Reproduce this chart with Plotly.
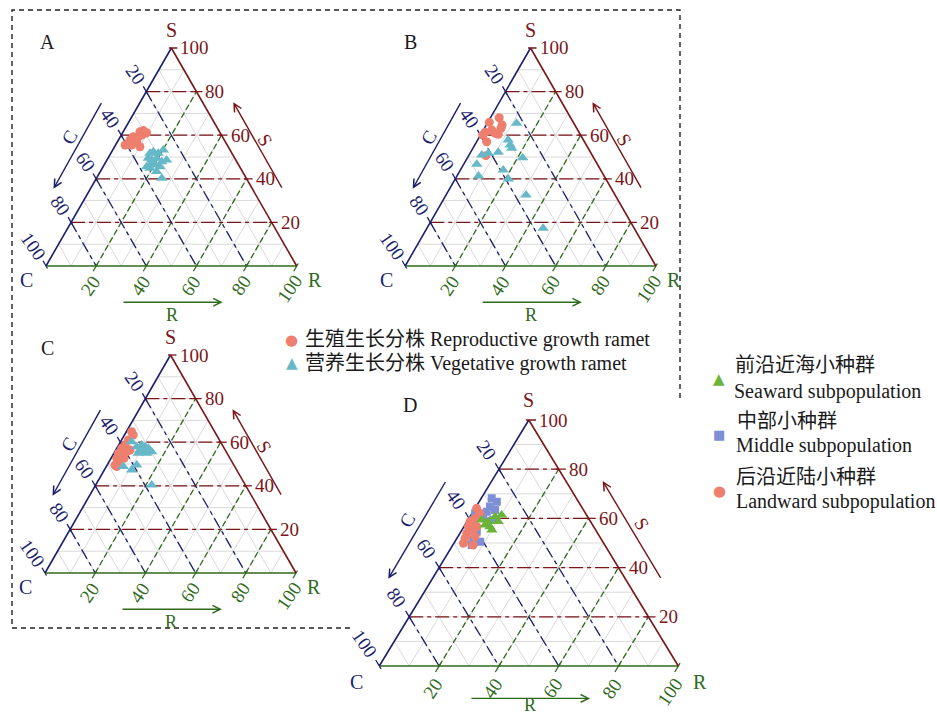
import math
import plotly.graph_objects as go

FIG_W, FIG_H = 937, 717
H3 = math.sqrt(3) / 2
FONT = "Liberation Serif, Times New Roman, Noto Sans CJK SC, serif"
GLYPH_FONT = "DejaVu Sans, Noto Sans, sans-serif"

# ---- colours -------------------------------------------------------------
COL_S = "#7a1518"      # S axis (dark red)
COL_C = "#1b1f6b"      # C axis (navy)
COL_R = "#2f6a1c"      # R axis (green)
COL_GRID = "#dadada"
COL_TEXT = "#1a1a1a"
COL_REPRO = "#ee7f6e"
COL_VEG = "#66b8c8"
COL_SEA = "#6ab43a"
COL_MID = "#7d90d6"
COL_LAND = "#ee7f6e"

# ---- data: CSR strategy percentages (S, C, R) ----------------------------
A_REPRO_S = [55.5, 57.8, 59.3, 61.6, 62.1, 60.1, 57.0, 54.7, 55.5, 56.3, 58.6, 59.3, 60.9, 61.1]
A_REPRO_C = [40.7, 37.6, 35.5, 31.7, 30.1, 31.8, 35.3, 35.2, 38.1, 39.0, 35.2, 33.5, 30.1, 29.3]
A_REPRO_R = [3.8, 4.6, 5.2, 6.7, 7.8, 8.1, 7.7, 10.1, 6.4, 4.7, 6.2, 7.2, 9.0, 9.6]

A_VEG_S = [51.7, 52.4, 51.7, 53.2, 49.4, 48.6, 49.4, 47.8, 48.6, 45.5, 46.3, 45.5, 43.3, 44.8, 40.2, 47.1]
A_VEG_C = [32.7, 31.0, 29.4, 26.6, 34.5, 33.5, 31.1, 29.9, 27.6, 37.1, 33.4, 31.8, 34.2, 36.1, 33.7, 34.3]
A_VEG_R = [15.6, 16.6, 18.9, 20.2, 16.1, 17.9, 19.5, 22.3, 23.8, 17.4, 20.3, 22.7, 22.5, 19.1, 26.1, 18.6]

B_REPRO_S = [65.9, 68.0, 64.7, 63.2, 62.4, 60.9, 60.4, 61.3, 60.1, 57.0, 50.6]
B_REPRO_C = [33.5, 28.5, 29.0, 30.2, 34.3, 33.7, 32.7, 37.5, 39.0, 39.0, 42.5]
B_REPRO_R = [0.6, 3.5, 6.3, 6.6, 3.3, 5.4, 6.9, 1.2, 0.9, 4.0, 6.9]

B_VEG_S = [65.5, 57.8, 55.5, 54.0, 51.7, 50.9, 52.2, 46.7, 44.0, 39.9, 41.3, 49.7, 32.6, 17.3]
B_VEG_C = [22.8, 30.0, 30.4, 30.5, 41.0, 44.0, 36.8, 48.1, 38.9, 38.9, 50.1, 28.3, 35.5, 36.3]
B_VEG_R = [11.7, 12.2, 14.1, 15.5, 7.3, 5.1, 11.0, 5.2, 17.1, 21.2, 8.6, 22.0, 31.9, 46.4]

C_REPRO_S = [64.8, 63.3, 61.0, 58.7, 57.2, 54.9, 52.6, 49.5, 51.1, 52.6, 55.6, 56.4, 54.1, 48.8]
C_REPRO_C = [33.1, 33.2, 36.3, 38.8, 40.8, 43.3, 45.1, 47.4, 44.6, 42.2, 39.7, 37.9, 41.7, 47.0]
C_REPRO_R = [2.1, 3.5, 2.7, 2.5, 2.0, 1.8, 2.3, 3.1, 4.3, 5.2, 4.7, 5.7, 4.2, 4.2]

C_VEG_S = [60.2, 57.9, 58.7, 57.9, 57.2, 55.6, 55.6, 56.4, 54.9, 54.9, 48.8, 47.2, 49.5, 40.4]
C_VEG_C = [35.4, 34.5, 32.1, 31.2, 30.2, 29.7, 33.0, 34.0, 32.0, 35.4, 44.4, 41.9, 38.7, 37.3]
C_VEG_R = [4.4, 7.6, 9.2, 10.9, 12.6, 14.7, 11.4, 9.6, 13.1, 9.7, 6.8, 10.9, 11.8, 22.3]

D_MID_S = [68.2, 66.8, 64.8, 63.4, 62.7, 62.1, 59.3, 60.7, 54.6, 51.2, 50.5, 49.2, 59.3]
D_MID_C = [28.3, 27.3, 30.6, 29.6, 32.7, 36.9, 38.9, 34.9, 40.1, 43.0, 41.0, 44.5, 32.2]
D_MID_R = [3.5, 5.9, 4.6, 7.0, 4.6, 1.0, 1.8, 4.4, 5.3, 5.8, 8.5, 6.3, 8.5]

D_LAND_S = [64.1, 62.1, 60.0, 58.7, 56.6, 55.3, 53.9, 51.9, 49.9, 52.6, 56.6, 49.2]
D_LAND_C = [35.4, 35.3, 38.0, 40.3, 41.9, 41.4, 43.8, 45.4, 46.9, 41.7, 39.1, 44.0]
D_LAND_R = [0.5, 2.6, 2.0, 1.0, 1.5, 3.3, 2.3, 2.7, 3.2, 5.7, 4.3, 6.8]

D_SEA_S = [61.4, 60.7, 58.7, 57.3, 56.6, 55.3, 58.7, 59.3]
D_SEA_C = [28.4, 30.9, 34.2, 36.0, 34.7, 34.7, 30.9, 36.1]
D_SEA_R = [10.2, 8.4, 7.1, 6.7, 8.7, 10.0, 10.4, 4.6]

TICK_VALUES = [20, 40, 60, 80, 100]
GRID_MINOR = list(range(10, 100, 10))
GRID_MAJOR = [20, 40, 60, 80]

LEGEND_REPRO = "生殖生长分株 Reproductive growth ramet"
LEGEND_VEG = "营养生长分株 Vegetative growth ramet"
LEGEND_SEA = ("前沿近海小种群", "Seaward subpopulation")
LEGEND_MID = ("中部小种群", "Middle subpopulation")
LEGEND_LAND = ("后沿近陆小种群", "Landward subpopulation")

# ---- panel placement (pixels): C corner x, baseline y, side width, height --
PANELS = [
    dict(name="A", cx=46.0, base=266.0, w=250.7, h=218.0, letter=(47, 42), r_arrow=-14.4, r_title=-19.3),
    dict(name="B", cx=405.2, base=266.0, w=250.7, h=218.0, letter=(410, 42), r_arrow=-14.4, r_title=-19.3),
    dict(name="C", cx=45.0, base=573.0, w=251.0, h=218.0, letter=(47, 348), r_arrow=-14.4, r_title=-19.3),
    dict(name="D", cx=379.3, base=666.0, w=299.0, h=246.0, letter=(410, 405), r_arrow=-11.4, r_title=-13.8),
]


def to_xy(s_vals, r_vals):
    """Ternary (S top, C left, R right) to planar triangle coordinates."""
    xs = [r + s / 2 for s, r in zip(s_vals, r_vals)]
    ys = [s * H3 for s in s_vals]
    return xs, ys


fig = go.Figure()
layout_axes = {}
annotations = []


def seg_trace(segs, color, width, dash, xr, yr):
    xs, ys = [], []
    for (x0, y0), (x1, y1) in segs:
        xs += [x0, x1, None]
        ys += [y0, y1, None]
    fig.add_trace(go.Scatter(x=xs, y=ys, mode="lines", xaxis=xr, yaxis=yr,
                             line=dict(color=color, width=width, dash=dash),
                             hoverinfo="skip", showlegend=False))


def s_line(v):
    return ((v / 2, v * H3), (100 - v / 2, v * H3))


def c_line(v):
    return (((100 - v) / 2, (100 - v) * H3), (100 - v, 0))


def r_line(v):
    return ((v, 0), (v + (100 - v) / 2, (100 - v) * H3))


def ann(xr, yr, x, y, text, color, size=19, angle=0, xanchor="center", yanchor="middle",
        family=FONT):
    annotations.append(dict(x=x, y=y, xref=xr, yref=yr, text=text, showarrow=False,
                            textangle=angle, xanchor=xanchor, yanchor=yanchor,
                            font=dict(family=family, size=size, color=color)))


def paper_text(px, py, text, color=COL_TEXT, size=20, family=FONT, xanchor="left"):
    ann("paper", "paper", px / FIG_W, 1 - py / FIG_H, text, color, size=size,
        xanchor=xanchor, family=family)


def arrow(xr, yr, head, tail, color):
    annotations.append(dict(x=head[0], y=head[1], ax=tail[0], ay=tail[1],
                            xref=xr, yref=yr, axref=xr, ayref=yr, text="",
                            showarrow=True, arrowhead=5, arrowsize=1.1,
                            arrowwidth=1.4, arrowcolor=color, standoff=0,
                            startstandoff=0))


for i, p in enumerate(PANELS, start=1):
    xr = "x" if i == 1 else f"x{i}"
    yr = "y" if i == 1 else f"y{i}"
    kx = p["w"] / 100.0
    ky = p["h"] / (100 * H3)
    # pixel box for this panel's axes
    bx0 = max(0.0, p["cx"] - 45)
    bx1 = min(FIG_W, p["cx"] + p["w"] + 45)
    by0 = max(0.0, p["base"] - p["h"] - 45)
    by1 = min(FIG_H, p["base"] + 60)
    xrange = [(bx0 - p["cx"]) / kx, (bx1 - p["cx"]) / kx]
    yrange = [(p["base"] - by1) / ky, (p["base"] - by0) / ky]
    ax_common = dict(visible=False, fixedrange=True, showgrid=False, zeroline=False)
    layout_axes["xaxis" if i == 1 else f"xaxis{i}"] = dict(
        ax_common, range=xrange, domain=[bx0 / FIG_W, bx1 / FIG_W], anchor=yr)
    layout_axes["yaxis" if i == 1 else f"yaxis{i}"] = dict(
        ax_common, range=yrange, domain=[1 - by1 / FIG_H, 1 - by0 / FIG_H], anchor=xr)

    # light triangular grid every 10 %
    minor = []
    for v in GRID_MINOR:
        minor += [s_line(v), c_line(v), r_line(v)]
    seg_trace(minor, COL_GRID, 1.0, "solid", xr, yr)

    # major dashed lines every 20 %
    seg_trace([r_line(v) for v in GRID_MAJOR], COL_R, 1.3, "6px,3px", xr, yr)
    seg_trace([c_line(v) for v in GRID_MAJOR], COL_C, 1.3, "11px,4px,4px,4px", xr, yr)
    seg_trace([s_line(v) for v in GRID_MAJOR], COL_S, 1.3, "14px,4px,4px,4px", xr, yr)

    # ticks
    s_ticks = [((100 - v / 2 - 1.0, v * H3), (100 - v / 2 + 2.4, v * H3)) for v in TICK_VALUES]
    c_ticks = [(((100 - v) / 2 + 0.6, (100 - v) * H3 - 1.0),
                ((100 - v) / 2 - 1.2, (100 - v) * H3 + 2.1)) for v in TICK_VALUES]
    r_ticks = [((v + 0.6, 1.0), (v - 1.2, -2.1)) for v in TICK_VALUES]
    seg_trace(s_ticks, COL_S, 1.3, "solid", xr, yr)
    seg_trace(c_ticks, COL_C, 1.3, "solid", xr, yr)
    seg_trace(r_ticks, COL_R, 1.3, "solid", xr, yr)

    # triangle edges
    seg_trace([((0, 0), (100, 0))], COL_R, 1.6, "solid", xr, yr)
    seg_trace([((0, 0), (50, 100 * H3))], COL_C, 1.6, "solid", xr, yr)
    seg_trace([((100, 0), (50, 100 * H3))], COL_S, 1.6, "solid", xr, yr)

    # tick labels
    for v in TICK_VALUES:
        ann(xr, yr, 100 - v / 2 + 2.8, v * H3, str(v), COL_S, xanchor="left")
        off = (-5.0, 7.8) if v == 100 else (-4.3, 6.8)
        ann(xr, yr, (100 - v) / 2 + off[0], (100 - v) * H3 + off[1], str(v), COL_C, angle=55)
        roff = (-2.8, -8.8) if v == 100 else (-2.2, -7.8)
        ann(xr, yr, v + roff[0], roff[1], str(v), COL_R, angle=-55)

    # corner labels
    ann(xr, yr, 50, 93.6, "S", COL_S, size=20)
    ann(xr, yr, -7.6, -5.6, "C", COL_C, size=20)
    ann(xr, yr, 107.2, -5.6, "R", COL_R, size=20)

    # direction arrows and axis titles
    arrow(xr, yr, (3.0, 30.7), (22.4, 65.3), COL_C)
    ann(xr, yr, 9.3, 51.2, "C", COL_C, angle=-60)
    arrow(xr, yr, (74.7, 65.1), (94.4, 30.5), COL_S)
    ann(xr, yr, 87.6, 50.0, "S", COL_S, angle=60)
    arrow(xr, yr, (70.5, p["r_arrow"]), (30.3, p["r_arrow"]), COL_R)
    ann(xr, yr, 50.3, p["r_title"], "R", COL_R, size=18)

    # panel letter
    paper_text(p["letter"][0], p["letter"][1], p["name"], size=20, xanchor="center")


def points(s, r, xr, yr, name, color, symbol, size=9):
    xs, ys = to_xy(s, r)
    fig.add_trace(go.Scatter(
        x=xs, y=ys, xaxis=xr, yaxis=yr, mode="markers", name=name,
        marker=dict(color=color, symbol=symbol, size=size, line=dict(width=0)),
        showlegend=False, hoverinfo="skip"))


# panels A-C: ramet types
points(A_REPRO_S, A_REPRO_R, "x", "y", LEGEND_REPRO, COL_REPRO, "circle")
points(A_VEG_S, A_VEG_R, "x", "y", LEGEND_VEG, COL_VEG, "triangle-up", 10)
points(B_REPRO_S, B_REPRO_R, "x2", "y2", LEGEND_REPRO, COL_REPRO, "circle")
points(B_VEG_S, B_VEG_R, "x2", "y2", LEGEND_VEG, COL_VEG, "triangle-up", 10)
points(C_REPRO_S, C_REPRO_R, "x3", "y3", LEGEND_REPRO, COL_REPRO, "circle")
points(C_VEG_S, C_VEG_R, "x3", "y3", LEGEND_VEG, COL_VEG, "triangle-up", 10)

# panel D: subpopulations
points(D_MID_S, D_MID_R, "x4", "y4", LEGEND_MID[1], COL_MID, "square", 8)
points(D_LAND_S, D_LAND_R, "x4", "y4", LEGEND_LAND[1], COL_LAND, "circle")
points(D_SEA_S, D_SEA_R, "x4", "y4", LEGEND_SEA[1], COL_SEA, "triangle-up", 10)

# ---- legends (symbol glyph + text) ---------------------------------------
paper_text(291.7, 340, "●", COL_REPRO, size=15, family=GLYPH_FONT, xanchor="center")
paper_text(303, 339.5, LEGEND_REPRO)
paper_text(291.7, 363, "▲", COL_VEG, size=15, family=GLYPH_FONT, xanchor="center")
paper_text(303, 363.5, LEGEND_VEG)

paper_text(719, 378.5, "▲", COL_SEA, size=15, family=GLYPH_FONT, xanchor="center")
paper_text(733, 365, LEGEND_SEA[0])
paper_text(732, 391, LEGEND_SEA[1])
paper_text(718.5, 434, "■", COL_MID, size=13, family=GLYPH_FONT, xanchor="center")
paper_text(735, 421, LEGEND_MID[0])
paper_text(734, 445.5, LEGEND_MID[1])
paper_text(719, 490.5, "●", COL_LAND, size=15, family=GLYPH_FONT, xanchor="center")
paper_text(734, 477, LEGEND_LAND[0])
paper_text(734, 501.5, LEGEND_LAND[1])

# dashed frame around panels A-C
frame_path = (f"M {350 / FIG_W},{1 - 628 / FIG_H} L {12 / FIG_W},{1 - 628 / FIG_H} "
              f"L {12 / FIG_W},{1 - 10 / FIG_H} L {680 / FIG_W},{1 - 10 / FIG_H} "
              f"L {680 / FIG_W},{1 - 400 / FIG_H}")
shapes = [dict(type="path", path=frame_path, xref="paper", yref="paper",
               line=dict(color="#222222", width=1.4, dash="5px,4px"))]

fig.update_layout(
    width=FIG_W, height=FIG_H,
    margin=dict(l=0, r=0, t=0, b=0),
    paper_bgcolor="white", plot_bgcolor="rgba(0,0,0,0)",
    font=dict(family=FONT, size=19, color=COL_TEXT),
    annotations=annotations, shapes=shapes, showlegend=False,
    **layout_axes,
)

fig.write_html("out.html")
